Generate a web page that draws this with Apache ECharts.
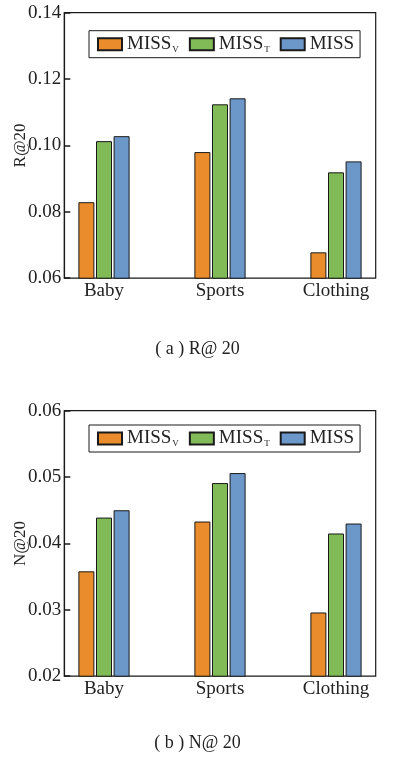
<!DOCTYPE html>
<html>
<head>
<meta charset="utf-8">
<script src="https://cdn.jsdelivr.net/npm/echarts@6/dist/echarts.min.js"></script>
<style>
html,body{margin:0;padding:0;background:#fff;}
#c{width:395px;height:763px;}
</style>
</head>
<body>
<div id="c"></div>
<script>
var categories = ['Baby', 'Sports', 'Clothing'];
var seriesNames = ['MISS_V', 'MISS_T', 'MISS'];
var r20_missV = [0.0829, 0.0980, 0.0678];
var r20_missT = [0.1013, 0.1124, 0.0919];
var r20_miss  = [0.1028, 0.1142, 0.0952];
var n20_missV = [0.0358, 0.0433, 0.0296];
var n20_missT = [0.0439, 0.0491, 0.0415];
var n20_miss  = [0.0450, 0.0506, 0.0430];
var r20Ticks = { min: 0.06, max: 0.14, interval: 0.02 };
var n20Ticks = { min: 0.02, max: 0.06, interval: 0.01 };

var colors = ['#EA8C2C', '#80BB57', '#6C98C9'];
var FONT = '"Liberation Serif", "DejaVu Serif", serif';
var TXT = '#222';

var chart = echarts.init(document.getElementById('c'), null, { renderer: 'canvas' });

function frameGrid(top) {
  return { left: 64.3, width: 311.4, top: top, height: 265.5, show: true,
           outerBoundsMode: 'none', containLabel: false,
           borderColor: '#1a1a1a', borderWidth: 1.2, backgroundColor: 'transparent' };
}
function barGrid(top) {
  return { left: 46, width: 348, top: top, height: 265.5, outerBoundsMode: 'none', containLabel: false };
}
function frameY(grid, t, name) {
  return {
    type: 'value', gridIndex: grid, min: t.min, max: t.max, interval: t.interval,
    name: name, nameLocation: 'middle', nameGap: 35, nameMoveOverlap: false,
    nameTextStyle: { fontFamily: FONT, fontSize: 17, color: TXT },
    axisLine: { show: true, lineStyle: { color: '#1a1a1a', width: 1.2 } },
    axisTick: { show: true, inside: true, length: 6, lineStyle: { color: '#1a1a1a', width: 1.5 } },
    splitLine: { show: false },
    axisLabel: { fontFamily: FONT, fontSize: 19, color: TXT, margin: 3,
                 formatter: function (v) { return v.toFixed(2); } }
  };
}
function barY(grid, t) {
  return { type: 'value', gridIndex: grid, min: t.min, max: t.max, interval: t.interval, show: false };
}
function legendFor(top) {
  return {
    left: 89, top: top, orient: 'horizontal',
    data: seriesNames,
    icon: 'rect', itemWidth: 24, itemHeight: 12, itemGap: 10,
    padding: [4, 6, 4, 8],
    borderColor: '#1a1a1a', borderWidth: 1,
    itemStyle: { borderColor: '#1a1a1a', borderWidth: 2 },
    textStyle: {
      fontFamily: FONT, fontSize: 19, color: TXT,
      rich: {
        m: { fontFamily: FONT, fontSize: 19, color: TXT },
        s: { fontFamily: FONT, fontSize: 9, color: TXT, verticalAlign: 'bottom', padding: [6, 0, 0, 1] }
      }
    },
    formatter: function (n) {
      if (n === 'MISS_V') return '{m|MISS}{s|V}';
      if (n === 'MISS_T') return '{m|MISS}{s|T}';
      return '{m|MISS}';
    }
  };
}
function bars(name, data, xi, yi, ci) {
  return {
    type: 'bar', name: name, xAxisIndex: xi, yAxisIndex: yi, data: data,
    barWidth: 16, barGap: '10%',
    itemStyle: { color: colors[ci], borderColor: '#1a1a1a', borderWidth: 1 }
  };
}
var catAxis = function (grid) {
  return {
    type: 'category', gridIndex: grid, data: categories,
    axisLine: { show: false }, axisTick: { show: false },
    axisLabel: { fontFamily: FONT, fontSize: 19, color: TXT, margin: 3 }
  };
};

var topA = 12.7, topB = 410.7;
chart.setOption({
  animation: false,
  backgroundColor: '#fff',
  grid: [frameGrid(topA), barGrid(topA), frameGrid(topB), barGrid(topB)],
  xAxis: [
    { type: 'value', gridIndex: 0, min: 0, max: 1, show: false },
    catAxis(1),
    { type: 'value', gridIndex: 2, min: 0, max: 1, show: false },
    catAxis(3)
  ],
  yAxis: [frameY(0, r20Ticks, 'R@20'), barY(1, r20Ticks), frameY(2, n20Ticks, 'N@20'), barY(3, n20Ticks)],
  legend: [legendFor(30.7), legendFor(425)],
  series: [
    bars('MISS_V', r20_missV, 1, 1, 0),
    bars('MISS_T', r20_missT, 1, 1, 1),
    bars('MISS', r20_miss, 1, 1, 2),
    bars('MISS_V', n20_missV, 3, 3, 0),
    bars('MISS_T', n20_missT, 3, 3, 1),
    bars('MISS', n20_miss, 3, 3, 2)
  ],
  graphic: [
    { type: 'text', left: 'center', top: 340, style: { text: '( a ) R@ 20', font: '18px ' + FONT, fill: TXT } },
    { type: 'text', left: 'center', top: 734, style: { text: '( b ) N@ 20', font: '18px ' + FONT, fill: TXT } }
  ]
});
</script>
</body>
</html>
